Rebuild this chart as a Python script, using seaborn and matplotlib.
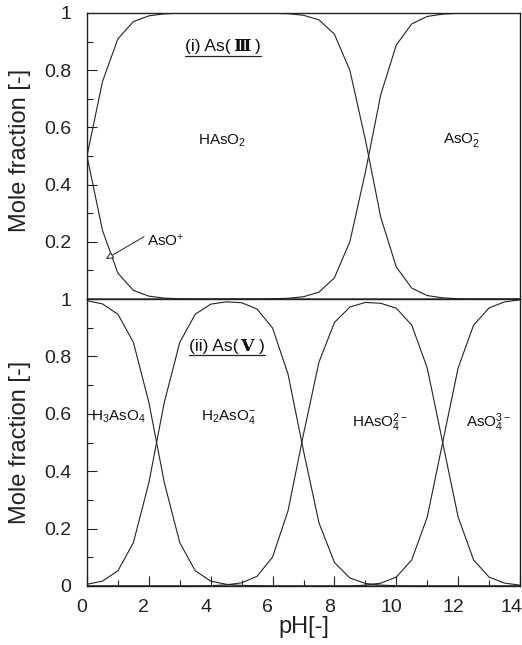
import matplotlib
matplotlib.use("Agg")
import matplotlib.pyplot as plt
from matplotlib.ticker import MultipleLocator, FuncFormatter
from matplotlib.transforms import ScaledTranslation
import seaborn as sns
import pandas as pd

# ---- data (pH grid, mole fractions) ----
ph = [0, 0.5, 1, 1.5, 2, 2.5, 3, 3.5, 4, 4.5, 5, 5.5, 6, 6.5, 7, 7.5, 8, 8.5,
      9, 9.5, 10, 10.5, 11, 11.5, 12, 12.5, 13, 13.5, 14]

# (i) As(III)
aso_plus = [0.50, 0.24, 0.09, 0.03, 0.01, 0.003, 0.001, 0, 0, 0, 0, 0, 0, 0, 0, 0, 0, 0,
            0, 0, 0, 0, 0, 0, 0, 0, 0, 0, 0]
haso2 = [0.50, 0.76, 0.91, 0.97, 0.99, 0.997, 0.999, 1.0, 1.0, 1.0, 1.0, 1.0, 0.999, 0.9975,
         0.992, 0.976, 0.926, 0.799, 0.557, 0.285, 0.112, 0.038, 0.012, 0.004, 0.001, 0, 0, 0, 0]
aso2_minus = [0, 0, 0, 0, 0, 0, 0, 0, 0, 0, 0, 0, 0.001, 0.0025, 0.008, 0.024, 0.074, 0.201,
              0.443, 0.715, 0.888, 0.962, 0.988, 0.996, 0.999, 1.0, 1.0, 1.0, 1.0]

# (ii) As(V)
h3aso4 = [0.994, 0.983, 0.947, 0.849, 0.640, 0.360, 0.151, 0.053, 0.017, 0.006, 0.002, 0.001,
          0, 0, 0, 0, 0, 0, 0, 0, 0, 0, 0, 0, 0, 0, 0, 0, 0]
h2aso4 = [0.006, 0.017, 0.053, 0.151, 0.360, 0.640, 0.849, 0.947, 0.982, 0.990, 0.987, 0.965,
          0.899, 0.738, 0.471, 0.220, 0.082, 0.028, 0.009, 0.003, 0.001, 0, 0, 0, 0, 0, 0, 0, 0]
haso4 = [0, 0, 0, 0, 0, 0, 0, 0, 0.001, 0.004, 0.011, 0.034, 0.101, 0.262, 0.529, 0.780, 0.918,
         0.972, 0.988, 0.985, 0.968, 0.909, 0.760, 0.500, 0.240, 0.091, 0.031, 0.010, 0.003]
aso4 = [0, 0, 0, 0, 0, 0, 0, 0, 0, 0, 0, 0, 0, 0, 0, 0, 0, 0, 0.003, 0.010, 0.031, 0.091,
        0.240, 0.500, 0.760, 0.909, 0.969, 0.990, 0.997]

x_ticks = [0, 2, 4, 6, 8, 10, 12, 14]
y_ticks = [0, 0.2, 0.4, 0.6, 0.8, 1]

sns.set_style("ticks")
plt.rcParams["font.family"] = ["Liberation Sans", "DejaVu Sans"]
plt.rcParams["mathtext.fontset"] = "custom"
plt.rcParams["mathtext.rm"] = "Liberation Sans"
plt.rcParams["mathtext.it"] = "Liberation Sans:italic"
plt.rcParams["mathtext.bf"] = "Liberation Sans:bold"

INK = "#222222"
fig = plt.figure(figsize=(5.22, 6.45), dpi=100)
W, H = 522, 645
L, R = 87, 520
ax1 = fig.add_axes([L / W, 1 - 299 / H, (R - L) / W, (299 - 13) / H])
ax2 = fig.add_axes([L / W, 1 - 586 / H, (R - L) / W, (586 - 299) / H])

df1 = pd.DataFrame({"pH": ph * 3,
                    "f": aso_plus + haso2 + aso2_minus,
                    "sp": ["AsO+"] * len(ph) + ["HAsO2"] * len(ph) + ["AsO2-"] * len(ph)})
df2 = pd.DataFrame({"pH": ph * 4,
                    "f": h3aso4 + h2aso4 + haso4 + aso4,
                    "sp": ["H3"] * len(ph) + ["H2"] * len(ph) + ["H1"] * len(ph) + ["H0"] * len(ph)})

pal1 = {k: INK for k in ["AsO+", "HAsO2", "AsO2-"]}
pal2 = {k: INK for k in ["H3", "H2", "H1", "H0"]}
sns.lineplot(data=df1, x="pH", y="f", hue="sp", palette=pal1, ax=ax1, legend=False, lw=0.8)
sns.lineplot(data=df2, x="pH", y="f", hue="sp", palette=pal2, ax=ax2, legend=False, lw=0.8)

fmt = FuncFormatter(lambda v, p: f"{v:g}")
for ax in (ax1, ax2):
    ax.set_xlim(0, 14)
    ax.set_ylim(0, 1)
    ax.set_yticks(y_ticks)
    ax.yaxis.set_major_formatter(fmt)
    ax.yaxis.set_minor_locator(MultipleLocator(0.1))
    for s in ax.spines.values():
        s.set_visible(True)
        s.set_linewidth(1.0)
        s.set_color(INK)
    ax.tick_params(axis="y", which="major", direction="in", length=7, width=0.8,
                   labelsize=14, pad=11.5, right=False, colors=INK)
    ax.tick_params(axis="y", which="minor", direction="in", length=4, width=0.8, right=False,
                   colors=INK)
    ax.set_ylabel("Mole fraction [-]", fontsize=17, color=INK)
    ax.yaxis.set_label_coords(-0.13, 0.5)

ax1.set_yticks([0.2, 0.4, 0.6, 0.8, 1])
ax1.set_xticks(x_ticks)
ax1.tick_params(axis="x", which="both", bottom=False, top=False, labelbottom=False)
ax1.set_xlabel("")
ax1.yaxis.set_label_coords(-0.13, 0.52)

ax2.set_xticks(x_ticks)
ax2.xaxis.set_major_formatter(fmt)
ax2.xaxis.set_minor_locator(MultipleLocator(1))
ax2.tick_params(axis="x", which="major", direction="in", length=7, width=0.8, labelsize=14,
                pad=9, top=False, colors=INK)
ax2.tick_params(axis="x", which="minor", direction="in", length=4, width=0.8, top=False,
                colors=INK)
ax2.set_xlabel("pH[-]", fontsize=17, labelpad=0, color=INK)
xlbls = ax2.get_xticklabels()
for i, lbl in enumerate(xlbls):
    dx = -9 if i == len(xlbls) - 1 else -5
    lbl.set_transform(lbl.get_transform() + ScaledTranslation(dx / 100, 0, fig.dpi_scale_trans))

# species labels
lab = dict(fontsize=11, ha="center", va="center", color="#111111")
ax1.text(4.37, 0.552, r"HAsO$_2$", **lab)
ax1.text(12.12, 0.556, r"AsO$_2^{-}$", **lab)
ax1.annotate(r"AsO$^{+}$", xy=(0.61, 0.14), xytext=(1.95, 0.205),
             fontsize=11, ha="left", va="center", color="#111111",
             arrowprops=dict(arrowstyle="-|>", fc="white", ec=INK, lw=0.7,
                             mutation_scale=11, shrinkA=0, shrinkB=0,
                             relpos=(0, 0.85)))
ax2.text(1.0, 0.59, r"H$_3$AsO$_4$", **lab)
ax2.text(4.57, 0.59, r"H$_2$AsO$_4^{-}$", **lab)
ax2.text(9.47, 0.568, r"HAsO$_4^{2-}$", **lab)
ax2.text(13.0, 0.568, r"AsO$_4^{3-}$", **lab)


def panel_title(ax, x, y, head, numeral):
    """Underlined title: sans text + serif roman numeral + closing parenthesis."""
    fs = 12.5
    ta = ax.text(x, y, head, fontsize=fs, ha="left", va="baseline", color="#111111")
    fig.canvas.draw()
    r = fig.canvas.get_renderer()
    base = ax.transData.transform((x, y))[1]
    bb = ta.get_window_extent(r)
    tb = fig.text((bb.x1 + 2) / fig.bbox.width, base / fig.bbox.height, numeral,
                  fontsize=fs, ha="left", va="baseline", family="DejaVu Serif",
                  weight="bold", color="#111111")
    fig.canvas.draw()
    bb2 = tb.get_window_extent(r)
    tc = fig.text((bb2.x1 + 5) / fig.bbox.width, base / fig.bbox.height, ")",
                  fontsize=fs, ha="left", va="baseline", color="#111111")
    fig.canvas.draw()
    bb3 = tc.get_window_extent(r)
    yy = (base - 4.5) / fig.bbox.height
    fig.add_artist(plt.Line2D([bb.x0 / fig.bbox.width, bb3.x1 / fig.bbox.width], [yy, yy],
                              transform=fig.transFigure, color=INK, lw=0.9))


panel_title(ax1, 3.17, 0.867, "(i) As(", "\u2162")
panel_title(ax2, 3.3, 0.819, "(ii) As(", "\u2164")

fig.savefig("out.png", dpi=100)
